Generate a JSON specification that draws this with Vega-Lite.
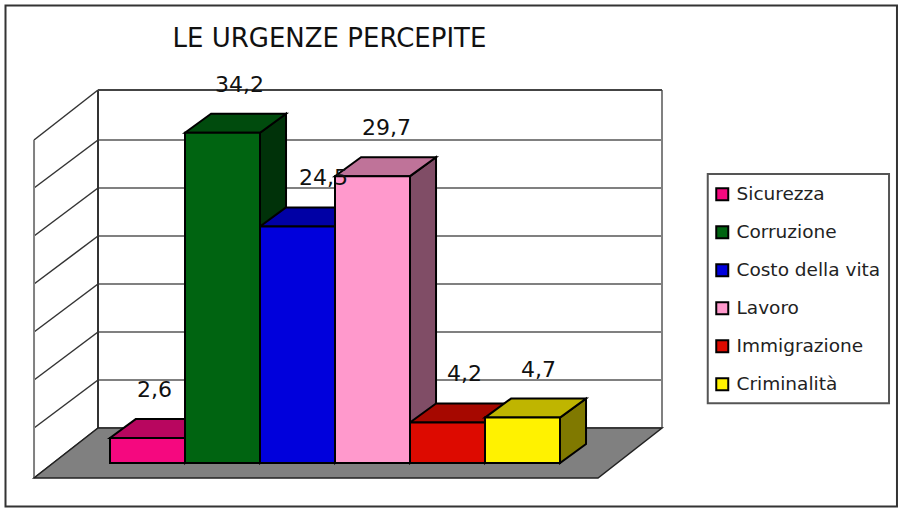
{
"$schema":"https://vega.github.io/schema/vega-lite/v6.json",
"width":564,"height":338,
"autosize":{"type":"none"},
"padding":{"left":98,"top":90,"right":237,"bottom":80},
"background":"#ffffff",
"title":{"text":"LE URGENZE PERCEPITE","anchor":"start","dx":168,"offset":-47,"fontSize":26,"font":"DejaVu Sans","fontWeight":"normal","color":"#111111"},
"config":{"view":{"stroke":null},"axis":{"disable":true},"font":"DejaVu Sans"},
"datasets":{
 "urgenze":[
  {"categoria":"Sicurezza","valore":2.6},
  {"categoria":"Corruzione","valore":34.2},
  {"categoria":"Costo della vita","valore":24.5},
  {"categoria":"Lavoro","valore":29.7},
  {"categoria":"Immigrazione","valore":4.2},
  {"categoria":"Criminalità","valore":4.7}
 ],
 "griglia":[{"tick":0},{"tick":4.97},{"tick":9.94},{"tick":14.91},{"tick":19.88},{"tick":24.85},{"tick":29.82},{"tick":35}],
 "piano":[{"piano":"fronte"},{"piano":"retro"}],
 "uno":[{"n":1}]
},
"layer":[
 {"data":{"name":"uno"},"mark":{"type":"rect","fill":"#ffffff","stroke":"#333333","strokeWidth":2},
  "encoding":{
   "x":{"datum":-1.2333,"type":"quantitative","scale":{"domain":[0,7.52],"nice":false,"zero":false}},
   "x2":{"datum":10.653},
   "y":{"datum":43.75,"type":"quantitative","scale":{"domain":[0,35],"nice":false,"zero":false}},
   "y2":{"datum":-8.12}}},
 {"data":{"name":"uno"},"mark":{"type":"rect","fill":"#ffffff","stroke":"#555555","strokeWidth":2},
  "encoding":{"x":{"datum":8.13,"type":"quantitative"},"x2":{"datum":10.547},"y":{"datum":26.3,"type":"quantitative"},"y2":{"datum":2.55}}},
 {"data":{"name":"griglia"},"mark":{"type":"rule","stroke":"#808080","strokeWidth":2},
  "encoding":{"x":{"datum":0,"type":"quantitative"},"x2":{"datum":7.52},"y":{"field":"tick","type":"quantitative"}}},
 {"data":{"name":"griglia"},"mark":{"type":"rule","stroke":"#333333","strokeWidth":1.5},
  "encoding":{"x":{"datum":-0.853,"type":"quantitative"},"x2":{"datum":0},
   "y":{"field":"basso","type":"quantitative"},"y2":{"field":"tick"}},
  "transform":[{"calculate":"datum.tick==0?-5.18:(datum.tick==35?29.82:datum.tick-4.97)","as":"basso"}]},
 {"data":{"name":"uno"},"mark":{"type":"rule","stroke":"#808080","strokeWidth":2},
  "encoding":{"x":{"datum":-0.853,"type":"quantitative"},"y":{"datum":-5.18,"type":"quantitative"},"y2":{"datum":29.82}}},
 {"data":{"name":"uno"},"mark":{"type":"rule","stroke":"#808080","strokeWidth":2},
  "encoding":{"x":{"datum":7.52,"type":"quantitative"},"y":{"datum":0,"type":"quantitative"},"y2":{"datum":35}}},
 {"data":{"name":"uno"},"mark":{"type":"rule","stroke":"#333333","strokeWidth":2},
  "encoding":{"x":{"datum":0,"type":"quantitative"},"y":{"datum":0,"type":"quantitative"},"y2":{"datum":35}}},
 {"data":{"name":"uno"},"mark":{"type":"rule","stroke":"#444444","strokeWidth":2},
  "encoding":{"x":{"datum":0,"type":"quantitative"},"x2":{"datum":7.52},"y":{"datum":35,"type":"quantitative"}}},
 {"data":{"name":"piano"},
  "transform":[
   {"calculate":"datum.piano=='fronte'?-5.18:0","as":"py"},
   {"calculate":"datum.piano=='fronte'?-0.853:0","as":"px"},
   {"calculate":"datum.piano=='fronte'?6.667:7.52","as":"px2"}],
  "mark":{"type":"area","orient":"horizontal","fill":"#808080","stroke":"#222222","strokeWidth":1.5},
  "encoding":{"y":{"field":"py","type":"quantitative"},"x":{"field":"px","type":"quantitative","stack":null},"x2":{"field":"px2"}}},
 {"data":{"name":"urgenze"},
  "transform":[
   {"window":[{"op":"row_number","as":"n"}]},
   {"calculate":"[0,1]","as":"k"},{"flatten":["k"]},
   {"calculate":"datum.n+0.16+datum.k*0.347","as":"fx"},
   {"calculate":"-3.624+datum.valore+datum.k*1.967","as":"alto"},
   {"calculate":"-3.624+datum.k*1.967","as":"basso"}],
  "mark":{"type":"area","orient":"vertical","stroke":"#000000","strokeWidth":2},
  "encoding":{
   "x":{"field":"fx","type":"quantitative"},
   "y":{"field":"alto","type":"quantitative","stack":null},
   "y2":{"field":"basso"},
   "color":{"field":"categoria","type":"nominal","legend":null,"scale":{"domain":["Sicurezza","Corruzione","Costo della vita","Lavoro","Immigrazione","Criminalità"],"range":["#7b0540","#003209","#00006e","#804d66","#6e0500","#807900"]}}}},
 {"data":{"name":"urgenze"},
  "transform":[
   {"window":[{"op":"row_number","as":"n"}]},
   {"calculate":"[0,1]","as":"k"},{"flatten":["k"]},
   {"calculate":"datum.n-1+0.16+datum.k*0.347","as":"sx"},
   {"calculate":"datum.sx+1","as":"dx"},
   {"calculate":"-3.624+datum.valore+datum.k*1.967","as":"alto"}],
  "mark":{"type":"area","orient":"horizontal","stroke":"#000000","strokeWidth":2},
  "encoding":{
   "y":{"field":"alto","type":"quantitative"},
   "x":{"field":"sx","type":"quantitative","stack":null},
   "x2":{"field":"dx"},
   "color":{"field":"categoria","type":"nominal","legend":null,"scale":{"domain":["Sicurezza","Corruzione","Costo della vita","Lavoro","Immigrazione","Criminalità"],"range":["#b8065f","#004b0d","#0000a5","#bf7399","#a60800","#bfb500"]}}}},
 {"data":{"name":"urgenze"},
  "transform":[
   {"window":[{"op":"row_number","as":"n"}]},
   {"calculate":"datum.n-1+0.16","as":"sx"},
   {"calculate":"datum.sx+1","as":"dx"},
   {"calculate":"-3.624+datum.valore","as":"alto"},
   {"calculate":"-3.624","as":"basso"}],
  "mark":{"type":"rect","stroke":"#000000","strokeWidth":2},
  "encoding":{
   "x":{"field":"sx","type":"quantitative"},
   "x2":{"field":"dx"},
   "y":{"field":"alto","type":"quantitative"},
   "y2":{"field":"basso"},
   "color":{"field":"categoria","type":"nominal","sort":null,
    "scale":{"domain":["Sicurezza","Corruzione","Costo della vita","Lavoro","Immigrazione","Criminalità"],"range":["#f5087f","#006411","#0000dc","#ff99cc","#dd0a00","#fff200"]},
    "legend":{"title":null,"orient":"none","legendX":615,"legendY":95,"symbolType":"square","symbolSize":144,"symbolStrokeColor":"#000000","symbolStrokeWidth":2,"labelFontSize":18.5,"labelFont":"DejaVu Sans","labelColor":"#222222","rowPadding":17,"labelOffset":5,"padding":0}}}},
 {"data":{"name":"urgenze"},
  "transform":[
   {"window":[{"op":"row_number","as":"n"}]},
   {"calculate":"{'Sicurezza':7,'Corruzione':17,'Costo della vita':26,'Lavoro':14,'Immigrazione':17,'Criminalità':16}[datum.categoria]/75","as":"sp"},
   {"calculate":"datum.n-1+0.16+0.5+datum.sp","as":"lx"},
   {"calculate":"-3.624+datum.valore+4.25","as":"ly"},
   {"calculate":"replace(format(datum.valore,'.1f'),'.',',')","as":"etichetta"}],
  "mark":{"type":"text","fontSize":22,"font":"DejaVu Sans","color":"#111111","align":"center","baseline":"alphabetic"},
  "encoding":{"x":{"field":"lx","type":"quantitative"},"y":{"field":"ly","type":"quantitative"},"text":{"field":"etichetta","type":"nominal"}}}
],
"resolve":{"scale":{"color":"independent"}}
}
